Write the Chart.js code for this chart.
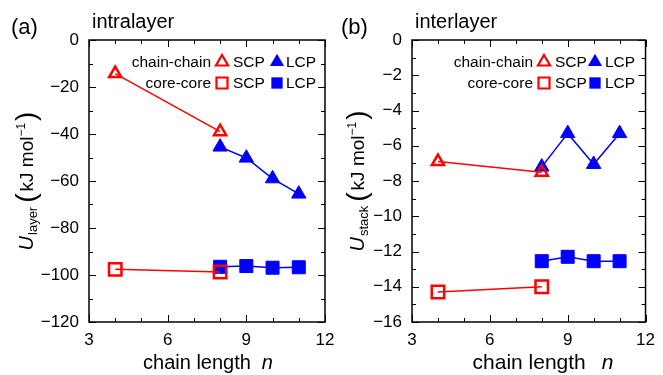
<!DOCTYPE html>
<html>
<head>
<meta charset="utf-8">
<script src="https://cdn.jsdelivr.net/npm/chart.js@4.4.1/dist/chart.umd.min.js"></script>
<style>
  body { margin: 0; background: #fff; width: 663px; height: 375px; overflow: hidden; position: relative; }
  #panelA { position: absolute; left: 0; top: 0; z-index: 2; }
  #panelB { position: absolute; left: 331px; top: 0; z-index: 1; }
</style>
</head>
<body>
<canvas id="panelA" width="345" height="375" style="width:345px;height:375px"></canvas>
<canvas id="panelB" width="332" height="375" style="width:332px;height:375px"></canvas>
<script>
// chain length n for each series
const nSCP = [4, 8];
const nLCP = [8, 9, 10, 11];
const xTicks = [3, 6, 9, 12];

// (a) intralayer, kJ/mol
const intraChainSCP = [-14.3, -39.0];
const intraChainLCP = [-45.5, -50.2, -59.0, -65.5];
const intraCoreSCP = [-97.6, -98.7];
const intraCoreLCP = [-96.5, -96.2, -96.9, -96.7];
const intraYTicks = [0, -20, -40, -60, -80, -100, -120];

// (b) interlayer, kJ/mol
const interChainSCP = [-6.9, -7.5];
const interChainLCP = [-7.2, -5.3, -7.05, -5.3];
const interCoreSCP = [-14.3, -14.0];
const interCoreLCP = [-12.55, -12.3, -12.55, -12.55];
const interYTicks = [0, -2, -4, -6, -8, -10, -12, -14, -16];

const RED = '#ff0000';
const BLUE = '#0000ff';
const FONT = '"Liberation Sans", Arial, Helvetica, sans-serif';

const toXY = (xs, ys) => xs.map((x, i) => ({ x: x, y: ys[i] }));
const fmt = v => String(v).replace('-', '\u2212');

// legend marker, same shapes Chart.js uses for points
function marker(ctx, style, x, y, r, filled, color) {
    ctx.save();
    ctx.beginPath();
    if (style === 'triangle') {
        for (let k = 0; k < 3; k++) {
            const a = k * 2 * Math.PI / 3;
            const px = x + Math.sin(a) * r, py = y - Math.cos(a) * r;
            k ? ctx.lineTo(px, py) : ctx.moveTo(px, py);
        }
        ctx.closePath();
    } else {
        const s = Math.SQRT1_2 * r;
        ctx.rect(x - s, y - s, 2 * s, 2 * s);
    }
    if (filled) {
        ctx.fillStyle = color;
        ctx.fill();
    } else {
        ctx.strokeStyle = color;
        ctx.lineWidth = 2.2;
        ctx.stroke();
    }
    ctx.restore();
}

function decorPlugin(p) {
    return {
        id: 'decor',
        afterDraw(chart) {
            const ctx = chart.ctx;
            const a = chart.chartArea;
            const xs = chart.scales.x, ys = chart.scales.y;
            ctx.save();

            // ticks inward on all four sides
            ctx.strokeStyle = '#000';
            ctx.lineWidth = 1;
            for (let v = 3; v <= 12; v++) {
                const px = Math.round(xs.getPixelForValue(v)) + 0.5;
                const len = v % 3 === 0 ? 7 : 4;
                ctx.beginPath();
                ctx.moveTo(px, a.bottom); ctx.lineTo(px, a.bottom - len);
                ctx.moveTo(px, a.top); ctx.lineTo(px, a.top + len);
                ctx.stroke();
            }
            for (let v = p.yMin; v <= 0; v += p.yMinor) {
                const py = Math.round(ys.getPixelForValue(v)) + 0.5;
                const len = v % (2 * p.yMinor) === 0 ? 7 : 4;
                ctx.beginPath();
                ctx.moveTo(a.left, py); ctx.lineTo(a.left + len, py);
                ctx.moveTo(a.right, py); ctx.lineTo(a.right - len, py);
                ctx.stroke();
            }

            // frame
            ctx.lineWidth = 1.5;
            ctx.strokeRect(a.left, a.top, a.right - a.left, a.bottom - a.top);

            // panel letter and heading
            ctx.fillStyle = '#000';
            ctx.textBaseline = 'alphabetic';
            ctx.textAlign = 'left';
            ctx.font = '22px ' + FONT;
            ctx.fillText(p.letter, p.letterX, 34);
            ctx.font = '20px ' + FONT;
            ctx.fillText(p.heading, a.left + 3, 28);

            // x title
            const xf = p.xTitleSize + 'px ' + FONT;
            ctx.font = xf;
            const w1 = ctx.measureText('chain length').width + p.xGap;
            ctx.font = 'italic ' + xf;
            const w2 = ctx.measureText('n').width;
            const x0 = p.xTitleCenter - (w1 + w2) / 2;
            ctx.font = xf;
            ctx.fillText('chain length', x0, 369);
            ctx.font = 'italic ' + xf;
            ctx.fillText('n', x0 + w1, 369);

            // y title, rotated
            const parts = [
                { t: 'U', f: 'italic 20px ' + FONT, dy: 0, gap: 0 },
                { t: p.sub, f: '13px ' + FONT, dy: 4, gap: 1 },
                { t: '(', f: '28px ' + FONT, dy: 2, gap: 4 },
                { t: 'kJ mol', f: '19px ' + FONT, dy: 0, gap: 2 },
                { t: '\u22121', f: '12px ' + FONT, dy: -8, gap: 0 },
                { t: ')', f: '28px ' + FONT, dy: 2, gap: 2 }
            ];
            let total = 0;
            parts.forEach(q => { ctx.font = q.f; q.w = ctx.measureText(q.t).width; total += q.w + q.gap; });
            ctx.translate(33, (a.top + a.bottom) / 2);
            ctx.rotate(-Math.PI / 2);
            let cx = -total / 2;
            parts.forEach(q => {
                cx += q.gap;
                ctx.font = q.f;
                ctx.fillText(q.t, cx, q.dy);
                cx += q.w;
            });
            ctx.restore();

            // legend
            ctx.save();
            ctx.fillStyle = '#000';
            ctx.textBaseline = 'middle';
            ctx.font = '15.5px ' + FONT;
            const L = p.legend;
            [[62, 'chain-chain', 'triangle'], [83, 'core-core', 'rect']].forEach(([ly, label, st]) => {
                ctx.textAlign = 'right';
                ctx.fillText(label, L.labelEnd, ly + 1);
                ctx.textAlign = 'left';
                marker(ctx, st, L.scp, ly, st === 'triangle' ? 7 : 7.8, false, RED);
                ctx.fillText('SCP', L.scpText, ly + 1);
                marker(ctx, st, L.lcp, ly, st === 'triangle' ? 8.2 : 8, true, BLUE);
                ctx.fillText('LCP', L.lcpText, ly + 1);
            });
            ctx.restore();
        }
    };
}

function makePanel(id, p) {
    const open = { borderColor: RED, backgroundColor: 'rgba(0,0,0,0)', pointBackgroundColor: 'rgba(0,0,0,0)', pointBorderColor: RED, pointBorderWidth: 2.5, borderWidth: 1.5, order: 0 };
    const solid = { borderColor: BLUE, backgroundColor: BLUE, pointBackgroundColor: BLUE, pointBorderColor: BLUE, pointBorderWidth: 1, borderWidth: 1.5, order: 1 };
    return new Chart(document.getElementById(id), {
        type: 'line',
        data: {
            datasets: [
                Object.assign({ data: toXY(nSCP, p.chainSCP), pointStyle: 'triangle', pointRadius: 7 }, open),
                Object.assign({ data: toXY(nSCP, p.coreSCP), pointStyle: 'rect', pointRadius: 8.8 }, open),
                Object.assign({ data: toXY(nLCP, p.chainLCP), pointStyle: 'triangle', pointRadius: 8.3 }, solid),
                Object.assign({ data: toXY(nLCP, p.coreLCP), pointStyle: 'rect', pointRadius: 9.2 }, solid)
            ]
        },
        options: {
            responsive: false,
            animation: false,
            events: [],
            layout: { padding: { left: 0, right: p.padRight, top: 40, bottom: 0 } },
            plugins: { legend: { display: false }, tooltip: { enabled: false } },
            scales: {
                x: {
                    type: 'linear', min: 3, max: 12,
                    afterBuildTicks: s => { s.ticks = xTicks.map(v => ({ value: v })); },
                    afterFit: s => { s.height = 53; },
                    grid: { display: false, drawTicks: false },
                    border: { display: false },
                    ticks: { color: '#000', padding: 8, font: { family: FONT, size: 17 }, maxRotation: 0, callback: fmt }
                },
                y: {
                    type: 'linear', min: p.yMin, max: 0,
                    afterBuildTicks: s => { s.ticks = p.yTicks.map(v => ({ value: v })); },
                    afterFit: s => { s.width = p.plotLeft; },
                    grid: { display: false, drawTicks: false },
                    border: { display: false },
                    ticks: { color: '#000', padding: 10, font: { family: FONT, size: 17 }, callback: fmt }
                }
            }
        },
        plugins: [decorPlugin(p)]
    });
}

makePanel('panelA', {
    chainSCP: intraChainSCP, chainLCP: intraChainLCP, coreSCP: intraCoreSCP, coreLCP: intraCoreLCP,
    yTicks: intraYTicks, yMin: -120, yMinor: 10,
    plotLeft: 89, padRight: 20,
    letter: '(a)', letterX: 11, heading: 'intralayer', sub: 'layer',
    xTitleSize: 20, xGap: 11, xTitleCenter: 208,
    legend: { labelEnd: 211, scp: 222, scpText: 233, lcp: 277, lcpText: 286 }
});

makePanel('panelB', {
    chainSCP: interChainSCP, chainLCP: interChainLCP, coreSCP: interCoreSCP, coreLCP: interCoreLCP,
    yTicks: interYTicks, yMin: -16, yMinor: 1,
    plotLeft: 81, padRight: 11,
    letter: '(b)', letterX: 10, heading: 'interlayer', sub: 'stack',
    xTitleSize: 21, xGap: 16, xTitleCenter: 212,
    legend: { labelEnd: 202, scp: 213, scpText: 224, lcp: 264, lcpText: 274 }
});
</script>
</body>
</html>
